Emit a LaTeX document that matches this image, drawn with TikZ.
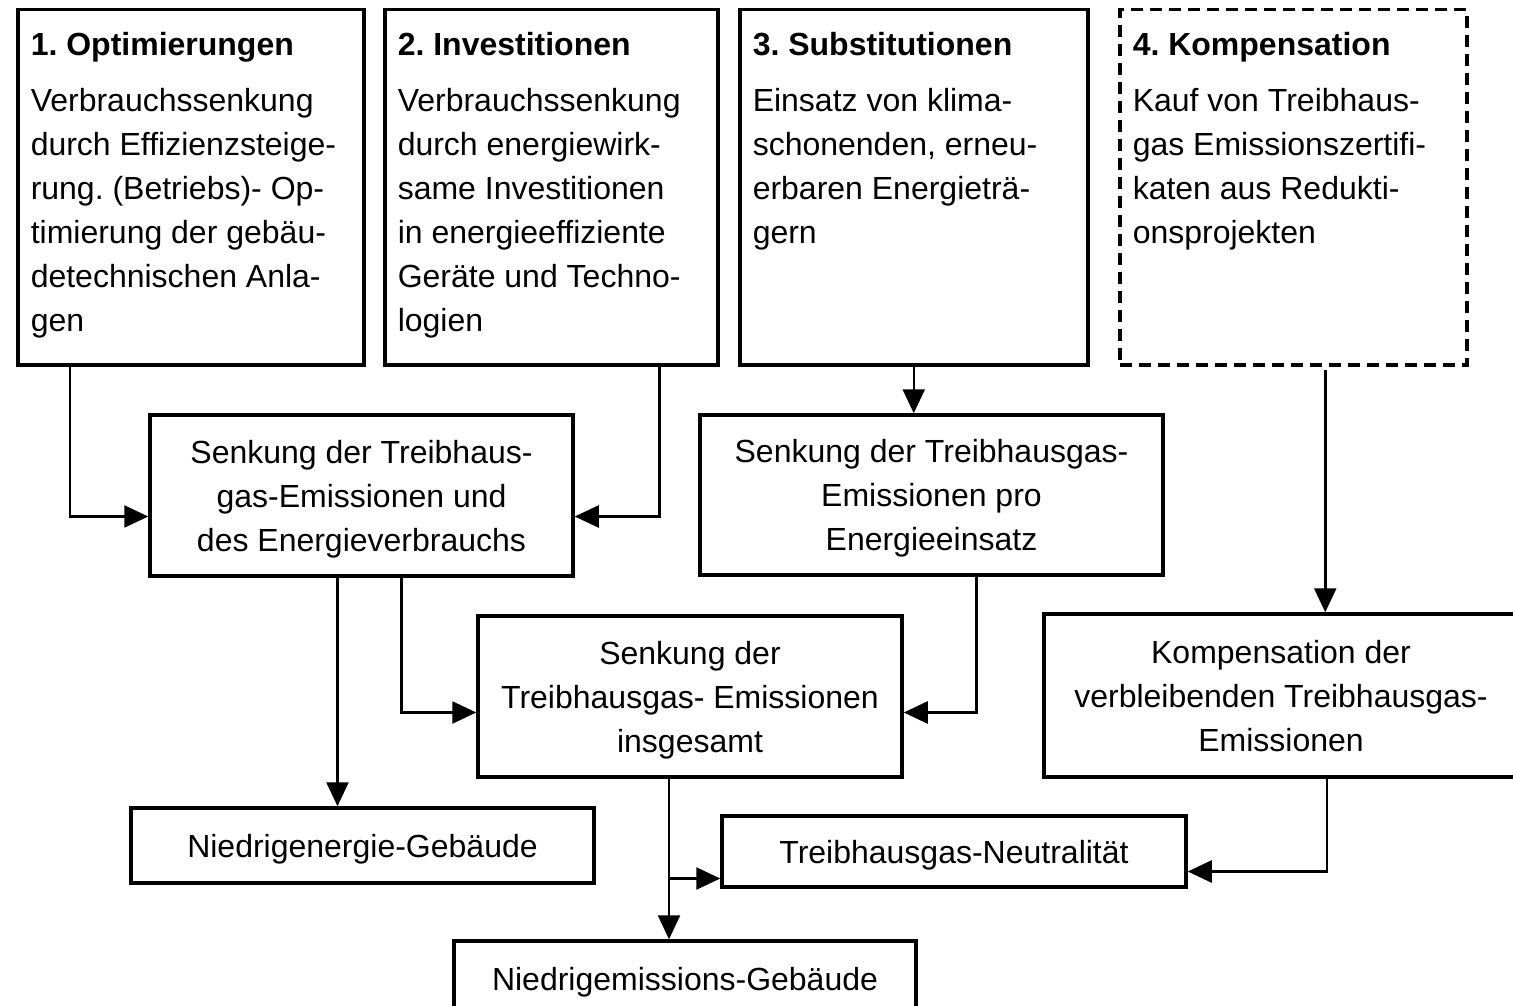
\documentclass[tikz,border=0pt]{standalone}
\usepackage{fontspec}
\setmainfont{Liberation Sans}
\frenchspacing
\usetikzlibrary{calc,positioning,arrows.meta}

\begin{document}
\begin{tikzpicture}[x=1pt, y=-1pt, font=\fontsize{32}{44}\selectfont,
box/.style={draw, line width=3.5pt, inner sep=0pt, align=center},
res/.style={box, text depth=0pt},
topbox/.style={box, anchor=north west, inner xsep=13pt, inner ysep=15pt},
arr/.style={line width=2.5pt, -{Triangle[length=24pt,width=22pt]}}]
\useasboundingbox (0,0) rectangle (1513,1006);
% top row
\node[topbox] (opt) at (16,8) {\parbox[t][325pt][t]{320pt}{\raggedright\strut\textbf{1. Optimierungen}\\[12pt]
Verbrauchssenkung\\durch Effizienzsteige-\\rung. (Betriebs)- Op-\\timierung der gebäu-\\detechnischen Anla-\\gen}};
\node[topbox] (inv) at (383,8) {\parbox[t][325pt][t]{307pt}{\raggedright\strut\textbf{2. Investitionen}\\[12pt]
Verbrauchssenkung\\durch energiewirk-\\same Investitionen\\in energieeffiziente\\Geräte und Techno-\\logien}};
\node[topbox] (sub) at (738,8) {\parbox[t][325pt][t]{322pt}{\raggedright\strut\textbf{3. Substitutionen}\\[12pt]
Einsatz von klima-\\schonenden, erneu-\\erbaren Energieträ-\\gern}};
\node[topbox, dash pattern=on 12pt off 7pt] (komp) at (1118,8) {\parbox[t][325pt][t]{321pt}{\raggedright\strut\textbf{4. Kompensation}\\[12pt]
Kauf von Treibhaus-\\gas Emissionszertifi-\\katen aus Redukti-\\onsprojekten}};
% effects
\node[res, minimum width=423pt, minimum height=161pt] (senk1) at (361.5,495.5) {Senkung der Treibhaus-\\gas-Emissionen und\\des Energieverbrauchs};
\node[res, minimum width=463pt, minimum height=160pt] (senk2) at (931.5,495) {Senkung der Treibhausgas-\\Emissionen pro\\Energieeinsatz};
\node[res, minimum width=424pt, minimum height=161pt] (ges) at (690,696.5) {Senkung der\\Treibhausgas- Emissionen\\insgesamt};
\node[res, minimum width=474pt, minimum height=163pt] (kmp) at (1281,695.5) {Kompensation der\\verbleibenden Treibhausgas-\\Emissionen};
% results
\node[res, minimum width=463pt, minimum height=75pt] (niedE) at (362.5,845.5) {Niedrigenergie-Gebäude};
\node[res, minimum width=464pt, minimum height=71pt] (neutr) at (954,851.5) {Treibhausgas-Neutralität};
\node[res, minimum width=462pt, minimum height=75pt] (niedM) at (685,978.5) {Niedrigemissions-Gebäude};
% connectors
\draw[arr] ([xshift=54pt]opt.south west) |- ([yshift=-21pt]senk1.west);
\draw[arr] ([xshift=-60pt]inv.south east) |- ([yshift=-21pt]senk1.east);
\draw[arr] (sub.south) -- (sub.south |- senk2.north);
\draw[arr] ([shift={(32pt,-3pt)}]komp.south) -- ([xshift=32pt]komp.south |- kmp.north);
\draw[arr] ([xshift=-24pt]senk1.south) -- ([xshift=-24pt]senk1.south |- niedE.north);
\draw[arr] ([xshift=40pt]senk1.south) |- ([yshift=-16pt]ges.west);
\draw[arr] ([xshift=45pt]senk2.south) |- ([yshift=-16pt]ges.east);
\draw[arr] ([xshift=-21pt]ges.south) -- ([xshift=-21pt]ges.south |- niedM.north);
\draw[arr] ([xshift=-21pt]ges.south) |- ([yshift=-27pt]neutr.west);
\draw[arr] ([xshift=46pt]kmp.south) |- ([yshift=-20pt]neutr.east);
\end{tikzpicture}
\end{document}
